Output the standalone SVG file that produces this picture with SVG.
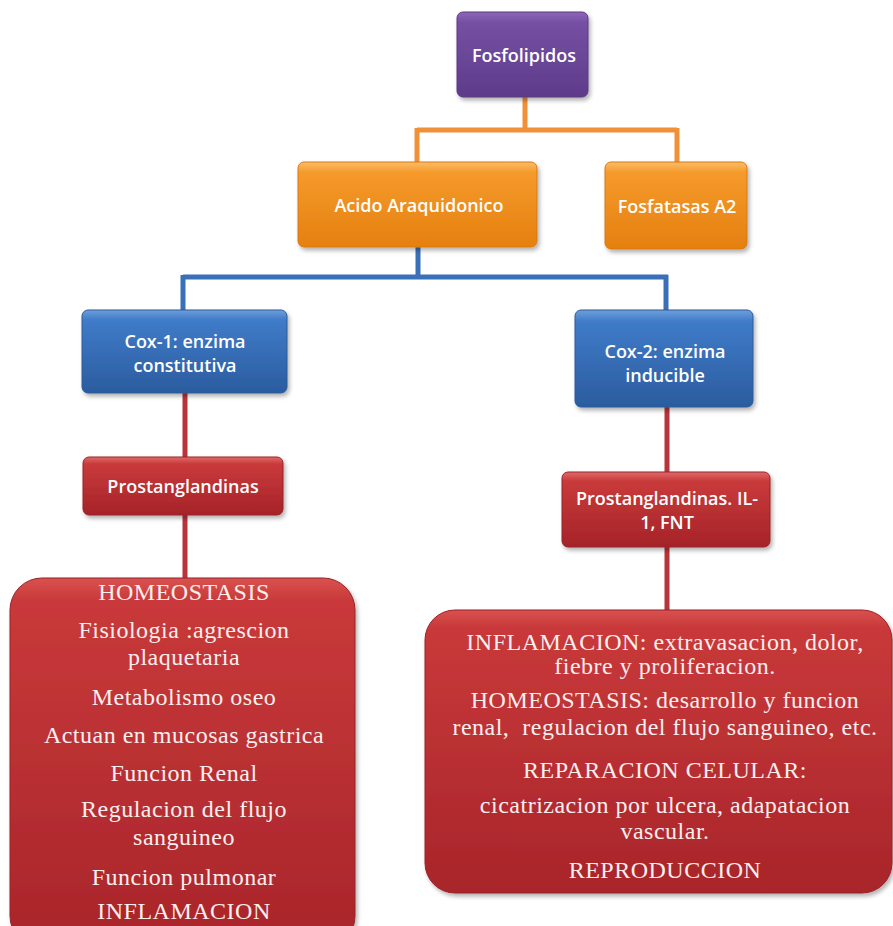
<svg xmlns="http://www.w3.org/2000/svg" width="893" height="926" viewBox="0 0 893 926">
<defs>
<linearGradient id="gP" x1="0" y1="0" x2="0" y2="1"><stop offset="0" stop-color="#8e66b8"/><stop offset="0.12" stop-color="#7550a3"/><stop offset="1" stop-color="#5e3b8a"/></linearGradient>
<linearGradient id="gO" x1="0" y1="0" x2="0" y2="1"><stop offset="0" stop-color="#fbbd6a"/><stop offset="0.12" stop-color="#f59a2c"/><stop offset="1" stop-color="#e5800f"/></linearGradient>
<linearGradient id="gB" x1="0" y1="0" x2="0" y2="1"><stop offset="0" stop-color="#6f9fdc"/><stop offset="0.12" stop-color="#3f7bc8"/><stop offset="1" stop-color="#2b5c9f"/></linearGradient>
<linearGradient id="gR" x1="0" y1="0" x2="0" y2="1"><stop offset="0" stop-color="#e06a6a"/><stop offset="0.12" stop-color="#c93a3b"/><stop offset="1" stop-color="#a52328"/></linearGradient>
<linearGradient id="gRB" x1="0" y1="0" x2="0" y2="1"><stop offset="0" stop-color="#d9524f"/><stop offset="0.06" stop-color="#c9393a"/><stop offset="1" stop-color="#a8252a"/></linearGradient>
<filter id="sh" x="-10%" y="-10%" width="125%" height="130%"><feDropShadow dx="2" dy="3" stdDeviation="2" flood-color="#000" flood-opacity="0.3"/></filter>
</defs>
<style>
.box{filter:url(#sh);stroke-width:1}
.lbl{font-family:"Open Sans","Liberation Sans",sans-serif;font-weight:600;font-size:18px;fill:#fff;text-anchor:middle}
.big{font-family:"Liberation Serif","DejaVu Serif",serif;font-size:24px;letter-spacing:0.5px;fill:#fbeeee;text-anchor:middle}
.co{fill:none;stroke-width:5}
</style>
<rect width="893" height="926" fill="#fff"/>
<g id="connectors">
<path class="co" stroke="#f0913a" d="M525 97V130M417 130H677M417 128V162M677 128V162"/>
<path class="co" stroke="#3a70b8" d="M418 247V277M183 277H668M183 275V310M666 275V310"/>
<path class="co" stroke="#b8343a" d="M185 393V457M185 515V580M667 407V472M667 547V610"/>
</g>
<g id="fosfolipidos"><rect class="box" x="457" y="12" width="131" height="85" rx="6" fill="url(#gP)" stroke="#5a3a82"/><text class="lbl" x="524" y="62">Fosfolipidos</text></g>
<g id="acido"><rect class="box" x="298" y="162" width="239" height="85" rx="6" fill="url(#gO)" stroke="#d9790e"/><text class="lbl" x="419" y="212">Acido Araquidonico</text></g>
<g id="fosfatasas"><rect class="box" x="605" y="162" width="142" height="87" rx="6" fill="url(#gO)" stroke="#d9790e"/><text class="lbl" x="677" y="213">Fosfatasas A2</text></g>
<g id="cox1"><rect class="box" x="82" y="310" width="205" height="83" rx="6" fill="url(#gB)" stroke="#2a5a9a"/><text class="lbl" x="185" y="348">Cox-1: enzima</text><text class="lbl" x="185" y="372">constitutiva</text></g>
<g id="cox2"><rect class="box" x="575" y="310" width="178" height="97" rx="6" fill="url(#gB)" stroke="#2a5a9a"/><text class="lbl" x="665" y="358">Cox-2: enzima</text><text class="lbl" x="665" y="382">inducible</text></g>
<g id="prost1"><rect class="box" x="83" y="457" width="200" height="58" rx="6" fill="url(#gR)" stroke="#9a2226"/><text class="lbl" x="183" y="493">Prostanglandinas</text></g>
<g id="prost2"><rect class="box" x="562" y="472" width="208" height="75" rx="6" fill="url(#gR)" stroke="#9a2226"/><text class="lbl" x="667" y="505">Prostanglandinas. IL-</text><text class="lbl" x="667" y="529">1, FNT</text></g>
<g id="cox1effects"><rect class="box" x="10" y="578" width="345" height="370" rx="32" fill="url(#gRB)" stroke="#9a2226"/>
<text class="big" x="184" y="600">HOMEOSTASIS</text>
<text class="big" x="184" y="638">Fisiologia :agrescion</text>
<text class="big" x="184" y="665">plaquetaria</text>
<text class="big" x="184" y="705">Metabolismo oseo</text>
<text class="big" x="184" y="743">Actuan en mucosas gastrica</text>
<text class="big" x="184" y="781">Funcion Renal</text>
<text class="big" x="184" y="817">Regulacion del flujo</text>
<text class="big" x="184" y="845">sanguineo</text>
<text class="big" x="184" y="885">Funcion pulmonar</text>
<text class="big" x="184" y="919">INFLAMACION</text>
</g>
<g id="cox2effects"><rect class="box" x="425" y="610" width="467" height="283" rx="30" fill="url(#gRB)" stroke="#9a2226"/>
<text class="big" x="665" y="650">INFLAMACION: extravasacion, dolor,</text>
<text class="big" x="665" y="674">fiebre y proliferacion.</text>
<text class="big" x="665" y="708">HOMEOSTASIS: desarrollo y funcion</text>
<text class="big" x="665" y="735">renal,&#160; regulacion del flujo sanguineo, etc.</text>
<text class="big" x="665" y="778">REPARACION CELULAR:</text>
<text class="big" x="665" y="813">cicatrizacion por ulcera, adapatacion</text>
<text class="big" x="665" y="839">vascular.</text>
<text class="big" x="665" y="878">REPRODUCCION</text>
</g>
</svg>
